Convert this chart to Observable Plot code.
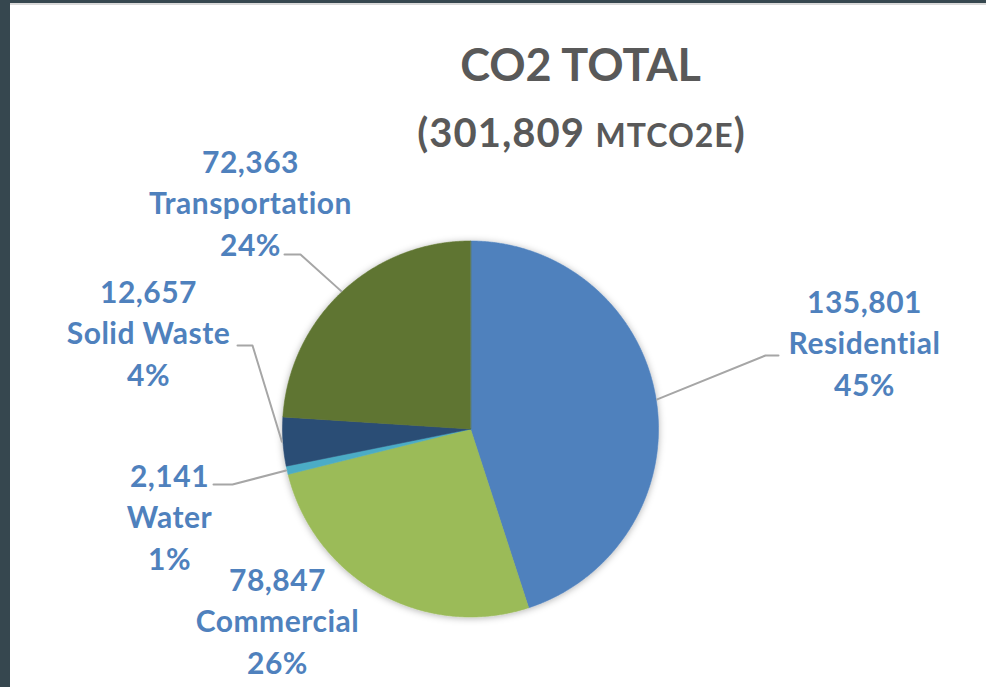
<!DOCTYPE html>
<html><head><meta charset="utf-8">
<script src="https://cdn.jsdelivr.net/npm/d3@7"></script>
<script src="https://cdn.jsdelivr.net/npm/@observablehq/plot@0.6"></script>
<style>
html,body{margin:0;padding:0;background:#36474f;overflow:hidden;width:986px;height:687px;}
#frame{position:absolute;left:10px;top:3px;width:976px;height:682px;background:#ffffff;border-top:2px solid #d9d9d9;}
#chart{position:absolute;left:0;top:0;}
</style></head><body>
<div id="frame"></div><div id="chart"></div>
<script>
// ---- data ----
const categories = ["Residential", "Commercial", "Water", "Solid Waste", "Transportation"];
const values = [135801, 78847, 2141, 12657, 72363];
const palette = ["#4F81BD", "#9BBB59", "#4BACC6", "#2C4D75", "#5F7530"];
const titleText = "CO2 TOTAL";
const unitText = "MTCO2E";

// ---- layout (not data) ----
const W = 986, H = 687;
const cx = 470, cy = 428.5, R = 188;
const FONT = "Lato";
const labelColor = "#4F81BD";
const labelSize = 30, labelSpacing = 0.5;
const labelLayout = {
  "Residential":    {x: 864, y: 395, leader: [[765, 355], [778, 355]]},
  "Commercial":     {x: 277, y: 673, leader: null},
  "Water":          {x: 169, y: 569, leader: [[232, 484], [213, 484]]},
  "Solid Waste":    {x: 148, y: 385, leader: [[252, 345], [237, 345]]},
  "Transportation": {x: 250, y: 255, leader: [[300, 254], [284, 254]]}
};

const data = categories.map((name, i) => ({name, value: values[i]}));
const total = d3.sum(values);
const fmt = d3.format(",");
const arcs = d3.pie().sort(null).value(d => d.value)(data);

const pt = (a, r) => ({x: cx + r * Math.sin(a), y: cy - r * Math.cos(a)});

// slice polygons
const slicePts = [];
for (const a of arcs) {
  const n = Math.max(2, Math.ceil((a.endAngle - a.startAngle) / 0.005));
  slicePts.push({name: a.data.name, ...pt(0, 0)});
  for (let k = 0; k <= n; k++) {
    const ang = a.startAngle + (a.endAngle - a.startAngle) * k / n;
    slicePts.push({name: a.data.name, ...pt(ang, R)});
  }
}

// leader lines: start at mid-angle on the rim
const leaderPts = [];
for (const a of arcs) {
  const L = labelLayout[a.data.name];
  if (!L.leader) continue;
  const mid = (a.startAngle + a.endAngle) / 2;
  leaderPts.push({name: a.data.name, ...pt(mid, R + 1)});
  for (const [x, y] of L.leader) leaderPts.push({name: a.data.name, x, y});
}

// labels
const labels = arcs.map(a => ({
  name: a.data.name,
  x: labelLayout[a.data.name].x,
  y: labelLayout[a.data.name].y,
  text: `${fmt(a.data.value)}\n${a.data.name}\n${Math.round(a.data.value / total * 100)}%`
}));

// subtitle pieces measured for mixed sizes
const subBig = 40, subSmall = 32, subSpacing = 1;
const ctx = document.createElement("canvas").getContext("2d");
const measure = (t, s) => { ctx.font = `bold ${s}px ${FONT}`; return ctx.measureText(t).width + subSpacing * t.length; };
const p1 = `(${fmt(total)} `, p2 = unitText, p3 = ")";
const w1 = measure(p1, subBig), w2 = measure(p2, subSmall), w3 = measure(p3, subBig);
const subCx = 581, subY = 146;
const sx0 = subCx - (w1 + w2 + w3) / 2;
const subPieces = [
  {t: p1, x: sx0, s: subBig},
  {t: p2, x: sx0 + w1, s: subSmall},
  {t: p3, x: sx0 + w1 + w2, s: subBig}
];

const plot = Plot.plot({
  width: W, height: H, margin: 0,
  x: {domain: [0, W], range: [0, W], axis: null},
  y: {domain: [0, H], range: [0, H], axis: null},
  color: {domain: categories, range: palette},
  style: {background: "transparent", overflow: "visible"},
  marks: [
    Plot.line(slicePts, {x: "x", y: "y", z: "name", fill: "name", stroke: "name", strokeWidth: 0.6, curve: "linear-closed"}),
    Plot.line(leaderPts, {x: "x", y: "y", z: "name", stroke: "#a6a6a6", strokeWidth: 2}),
    Plot.text(labels, {x: "x", y: "y", text: "text", lineAnchor: "bottom", lineHeight: 41.5 / labelSize,
      fontSize: labelSize, fontWeight: "bold", fill: labelColor, fontFamily: FONT}),
    Plot.text([titleText], {x: () => 580, y: () => 80, text: d => d, lineAnchor: "bottom",
      fontSize: 45, fontWeight: "bold", fill: "#595959", fontFamily: FONT}),
    ...subPieces.map(p => Plot.text([p.t], {x: () => p.x, y: () => subY, text: d => d, textAnchor: "start",
      lineAnchor: "bottom", fontSize: p.s, fontWeight: "bold", fill: "#595959", fontFamily: FONT}))
  ]
});

const svg = d3.select(plot);
const defs = svg.insert("defs", ":first-child");
const f = defs.append("filter").attr("id", "pieShadow")
  .attr("x", "-10%").attr("y", "-10%").attr("width", "120%").attr("height", "120%");
f.append("feDropShadow").attr("dx", 0).attr("dy", 1).attr("stdDeviation", 3.5)
  .attr("flood-color", "#000").attr("flood-opacity", 0.3);
svg.select('g[aria-label="line"]').attr("filter", "url(#pieShadow)");
const textGroups = svg.selectAll('g[aria-label="text"]').nodes();
d3.select(textGroups[0]).style("letter-spacing", labelSpacing + "px");
textGroups.slice(2).forEach(g => d3.select(g).style("letter-spacing", subSpacing + "px"));

document.getElementById("chart").appendChild(plot);
</script>
</body></html>
